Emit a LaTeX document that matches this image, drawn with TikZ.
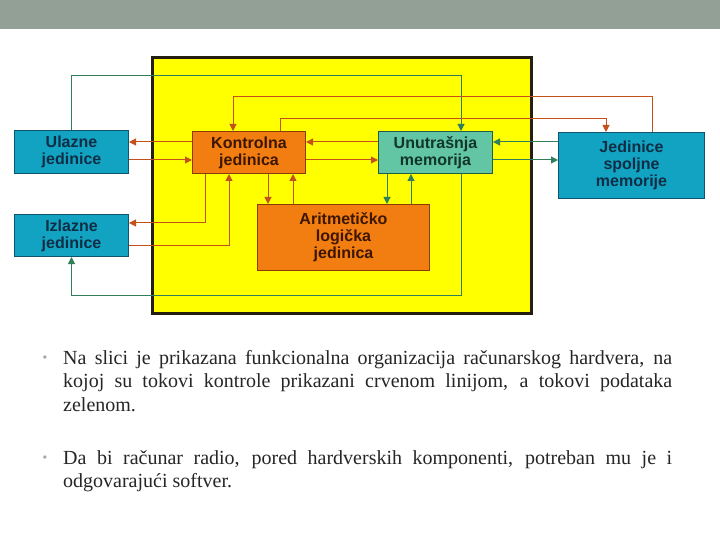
\documentclass[tikz,border=0pt]{standalone}
\usepackage{fontspec}
\setmainfont{Liberation Serif}
\newfontfamily\boxfont{Liberation Sans}
\usetikzlibrary{arrows.meta}
\definecolor{hdr}{HTML}{93A096}
\definecolor{ylw}{HTML}{FFFF00}
\definecolor{ylwb}{HTML}{241E0E}
\definecolor{cyanf}{HTML}{12A3C3}
\definecolor{cyand}{HTML}{10546E}
\definecolor{cyant}{HTML}{0F2E45}
\definecolor{orf}{HTML}{F27D10}
\definecolor{ord}{HTML}{8A3C08}
\definecolor{ort}{HTML}{3C1600}
\definecolor{aqf}{HTML}{62C5A3}
\definecolor{aqd}{HTML}{1F5E45}
\definecolor{aqt}{HTML}{12362C}
\definecolor{redl}{HTML}{C4501C}
\definecolor{grnl}{HTML}{2F7F5A}
\definecolor{txtc}{HTML}{262626}
\definecolor{bulc}{HTML}{A6A6A6}
\begin{document}
\begin{tikzpicture}[x=1pt,y=-1pt,
  unit/.style={draw, line width=1pt, inner sep=0pt, anchor=north west, align=center,
    font=\boxfont\bfseries\fontsize{16}{17}\selectfont},
  cyanbox/.style={unit, fill=cyanf, draw=cyand, text=cyant},
  orbox/.style={unit, fill=orf, draw=ord, text=ort},
  aqbox/.style={unit, fill=aqf, draw=aqd, text=aqt},
  ctrl/.style={draw=redl, line width=1pt, -{Triangle[length=7pt,width=7pt]}},
  data/.style={draw=grnl, line width=1pt, -{Triangle[length=7pt,width=7pt]}},
  para/.style={anchor=base west, inner sep=0pt, text=txtc, font=\fontsize{20}{23.5}\selectfont},
  bul/.style={inner sep=0pt, text=bulc, font=\boxfont\fontsize{12}{12}\selectfont}
]
\useasboundingbox (0,0) rectangle (720,540);
\fill[white] (0,0) rectangle (720,540);
\fill[hdr] (0,0) rectangle (720,29);
% yellow processor area
\draw[fill=ylw, draw=ylwb, line width=3pt] (152.5,57.5) rectangle (531.5,313.5);

% units
\node[cyanbox, minimum width=114pt, minimum height=43pt] (ul) at (14,130) {Ulazne\\jedinice};
\node[cyanbox, minimum width=114pt, minimum height=42pt] (iz) at (14,214) {Izlazne\\jedinice};
\node[orbox, minimum width=113pt, minimum height=42pt] (kon) at (192,131) {Kontrolna\\jedinica};
\node[aqbox, minimum width=114pt, minimum height=42pt] (uni) at (378,131) {Unutrašnja\\memorija};
\node[cyanbox, minimum width=146pt, minimum height=66pt] (je) at (558,132) {Jedinice\\spoljne\\memorije};
\node[orbox, minimum width=172pt, minimum height=66pt] (alu) at (257,204) {Aritmetičko\\logička\\jedinica};

% data flows (green)
\draw[data] (ul.north) |- (461,76) -- (461,0 |- uni.north);
\draw[data] (461,0 |- uni.south) -- (461,295) -| (iz.south);
\draw[data] (je.west |- 0,142) -- (uni.east |- 0,142);
\draw[data] (uni.east |- 0,160) -- (je.west |- 0,160);
\draw[data] (387,0 |- uni.south) -- (387,0 |- alu.north);
\draw[data] (411,0 |- alu.north) -- (411,0 |- uni.south);

% control flows (red)
\draw[ctrl] (652,0 |- je.north) |- (233,97) -- (233,0 |- kon.north);
\draw[ctrl] (280,0 |- kon.north) |- (606,119) -- (606,0 |- je.north);
\draw[ctrl] (kon.west |- 0,142) -- (ul.east |- 0,142);
\draw[ctrl] (ul.east |- 0,160) -- (kon.west |- 0,160);
\draw[ctrl] (uni.west |- 0,142) -- (kon.east |- 0,142);
\draw[ctrl] (kon.east |- 0,160) -- (uni.west |- 0,160);
\draw[ctrl] (205,0 |- kon.south) |- (iz.east |- 0,223);
\draw[ctrl] (iz.east |- 0,245) -| (229,0 |- kon.south);
\draw[ctrl] (268,0 |- kon.south) -- (268,0 |- alu.north);
\draw[ctrl] (293,0 |- alu.north) -- (293,0 |- kon.south);

% text
\node[bul] (b1) at (45,359) {•};
\node[para] (p1a) at (63,364) {\makebox[609pt][s]{Na slici je prikazana funkcionalna organizacija računarskog hardvera, na}};
\node[para] (p1b) at (63,387.5) {\makebox[609pt][s]{kojoj su tokovi kontrole prikazani crvenom linijom, a tokovi podataka}};
\node[para] (p1c) at (63,411) {zelenom.};
\node[bul] (b2) at (45,459) {•};
\node[para] (p2a) at (63,464) {\makebox[609pt][s]{Da bi računar radio, pored hardverskih komponenti, potreban mu je i}};
\node[para] (p2b) at (63,487.5) {odgovarajući softver.};
\end{tikzpicture}
\end{document}
